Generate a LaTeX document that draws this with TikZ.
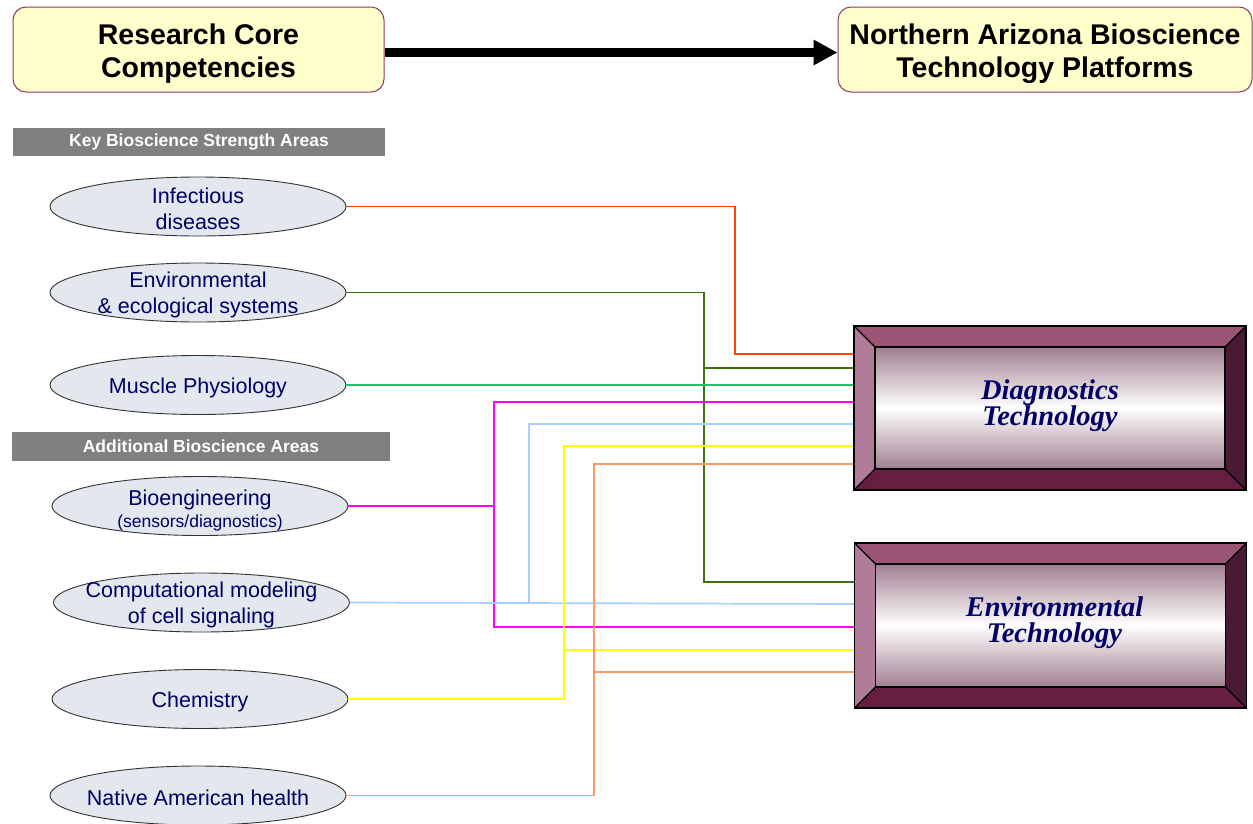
\documentclass[tikz,border=0pt]{standalone}
\usepackage{fontspec}
\setmainfont{Liberation Sans}
\newfontfamily\timesf{Liberation Serif}
\usetikzlibrary{shapes.geometric,arrows.meta,calc}
\definecolor{navy}{HTML}{000066}
\definecolor{ellfill}{HTML}{E3E8EE}
\definecolor{yfill}{HTML}{FFFFCC}
\definecolor{yborder}{HTML}{8B3A62}
\definecolor{bannergray}{HTML}{808080}
\definecolor{bvtop}{HTML}{9A5574}
\definecolor{bvleft}{HTML}{B07C98}
\definecolor{bvbottom}{HTML}{661F42}
\definecolor{bvright}{HTML}{4A1934}
\definecolor{bvinner}{HTML}{A07F8F}
\definecolor{cred}{HTML}{FF4500}
\definecolor{cdgreen}{HTML}{3F6F10}
\definecolor{cgreen}{HTML}{17C86A}
\definecolor{cmag}{HTML}{FF00FF}
\definecolor{cblue}{HTML}{A6D0FF}
\definecolor{cyel}{HTML}{FFFF00}
\definecolor{cpeach}{HTML}{FF9966}
\tikzset{
  ybox/.style={draw=yborder, line width=1pt, fill=yfill, rounded corners=13pt,
    inner sep=0pt},
  yboxtext/.style={align=center, yshift=-4pt, font=\fontsize{28.5}{33}\selectfont\bfseries},
  banner/.style={fill=bannergray, inner sep=0pt, text=white,
    font=\fontsize{17.5}{21}\selectfont\bfseries},
  area/.style={ellipse, draw=black!80, line width=0.9pt, fill=ellfill,
    minimum width=296pt, minimum height=59pt, inner sep=0pt},
  areatext/.style={align=center, text=navy, yshift=-2.5pt, font=\fontsize{21.5}{26}\selectfont},
  bevelnode/.style={rectangle, minimum width=392pt, minimum height=164pt,
    inner sep=0pt, outer sep=0pt},
  boxtitle/.style={align=center, text=navy,
    font=\fontsize{28.5}{26}\selectfont\timesf\bfseries\itshape},
  conn/.style={line width=1.7pt},
  bigarrow/.style={line width=8.5pt, -{Triangle[length=24pt,width=24pt]}},
}
\newcommand\bevelbox[1]{%
  \fill[bvtop] (#1.north west) -- (#1.north east) -- ($(#1.north east)+(-21,21)$) -- ($(#1.north west)+(21,21)$) -- cycle;
  \fill[bvbottom] (#1.south west) -- (#1.south east) -- ($(#1.south east)+(-21,-21)$) -- ($(#1.south west)+(21,-21)$) -- cycle;
  \fill[bvleft] (#1.north west) -- (#1.south west) -- ($(#1.south west)+(21,-21)$) -- ($(#1.north west)+(21,21)$) -- cycle;
  \fill[bvright] (#1.north east) -- (#1.south east) -- ($(#1.south east)+(-21,-21)$) -- ($(#1.north east)+(-21,21)$) -- cycle;
  \shade[top color=bvinner, bottom color=bvinner, middle color=white] ($(#1.north west)+(21,21)$) rectangle ($(#1.south east)+(-21,-21)$);
  \draw[line width=1.3pt] (#1.north west) rectangle (#1.south east);
  \draw[line width=1.1pt] ($(#1.north west)+(21,21)$) rectangle ($(#1.south east)+(-21,-21)$);
  \draw[line width=1.1pt] (#1.north west) -- ($(#1.north west)+(21,21)$);
  \draw[line width=1.1pt] (#1.north east) -- ($(#1.north east)+(-21,21)$);
  \draw[line width=1.1pt] (#1.south west) -- ($(#1.south west)+(21,-21)$);
  \draw[line width=1.1pt] (#1.south east) -- ($(#1.south east)+(-21,-21)$);
}
\begin{document}
\begin{tikzpicture}[x=1pt,y=-1pt]
\useasboundingbox (0,0) rectangle (1253,823);
\fill[white] (0,0) rectangle (1253,823);

% top boxes
\node[ybox, minimum width=371pt, minimum height=85pt,
  label={[yboxtext]center:Research Core\\Competencies}] (rcc) at (198.5,49.5) {};
\node[ybox, minimum width=414pt, minimum height=85pt,
  label={[yboxtext]center:Northern Arizona Bioscience\\Technology Platforms}] (narb) at (1045,49.5) {};
\draw[bigarrow] (rcc.east |- 0,52.5) -- (narb.west |- 0,52.5);

% banners
\node[banner, minimum width=372pt, minimum height=28pt] (kb) at (199,142) {Key Bioscience Strength Areas};
\node[banner, minimum width=378pt, minimum height=29pt] (ab) at (201,446.5) {Additional Bioscience Areas};

% platform boxes (positions)
\node[bevelnode] (diag) at (1050,408) {};
\node[bevelnode, minimum height=165pt] (envbox) at (1050.5,625.5) {};

% areas
\node[area, label={[areatext]center:Infectious\\diseases}] (e1) at (198,206.5) {};
\node[area, label={[areatext]center:Environmental\\\&~ecological systems}] (e2) at (198,292.5) {};
\node[area, label={[areatext]center:Muscle Physiology}] (e3) at (198,385) {};
\node[area, label={[areatext, yshift=-2pt]center:Bioengineering\\[-3.5pt]{\fontsize{17.5}{21}\selectfont(sensors/diagnostics)}}] (e4) at (200,506) {};
\node[area, label={[areatext]center:Computational modeling\\of cell signaling}] (e5) at (201.5,602.5) {};
\node[area, label={[areatext]center:Chemistry}] (e6) at (200,699) {};
\node[area, label={[areatext]center:Native American health}] (e7) at (198,795.5) {};

% connectors
\draw[conn, cred] (e1.east) -| (735,354) -- (diag.west |- 0,354);
\draw[conn, cdgreen] (e2.east) -| (704,582) -- (envbox.west |- 0,582);
\draw[conn, cdgreen] (704,368) -- (diag.west |- 0,368);
\draw[conn, cgreen] (e3.east) -- (diag.west |- e3.east);
\draw[conn, cmag] (e4.east) -| (494,402) -- (diag.west |- 0,402);
\draw[conn, cmag] (494,506) |- (envbox.west |- 0,627);
\draw[conn, cblue] (e5.east) -- (envbox.west |- 0,604);
\draw[conn, cblue] (529,602.5) |- (diag.west |- 0,424);
\draw[conn, cyel] (e6.east) -| (564,446) -- (diag.west |- 0,446);
\draw[conn, cyel] (564,650) -- (envbox.west |- 0,650);
\draw[conn, cpeach] (e7.east) -| (594,464) -- (diag.west |- 0,464);
\draw[conn, cpeach] (594,672) -- (envbox.west |- 0,672);

% bevel boxes
\bevelbox{diag}
\bevelbox{envbox}
\node[boxtitle] (diagt) at ($(diag)+(0,-2)$) {Diagnostics\\Technology};
\node[boxtitle] (envt) at ($(envbox)+(4,-2.5)$) {Environmental\\Technology};
\end{tikzpicture}
\end{document}
